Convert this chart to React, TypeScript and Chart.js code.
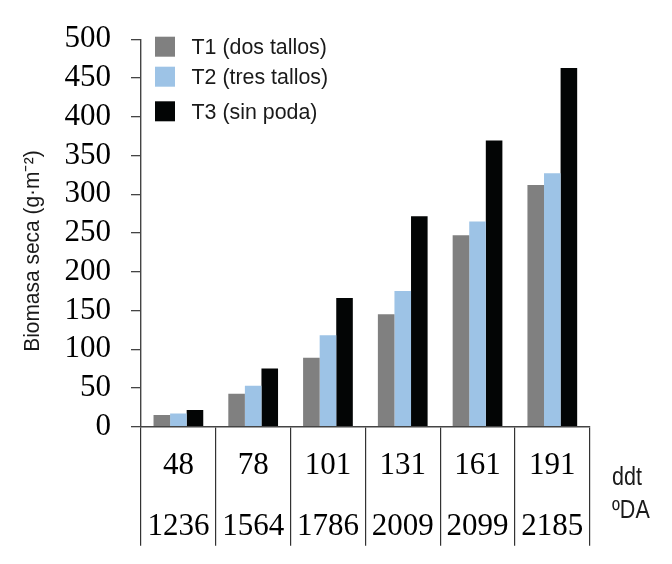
import React, { useEffect, useRef } from "react";
import { Chart, registerables } from "chart.js";

Chart.register(...registerables);

const ddtLabels = ["48", "78", "101", "131", "161", "191"];
const daLabels = ["1236", "1564", "1786", "2009", "2099", "2185"];
const seriesNames = ["T1 (dos tallos)", "T2 (tres tallos)", "T3 (sin poda)"];
const t1Values = [15, 42.5, 89, 145, 247, 312];
const t2Values = [17, 53, 118, 175, 265, 327];
const t3Values = [21.5, 75, 166, 271.5, 369.5, 463];
const seriesColors = ["#808080", "#9dc3e6", "#030505"];
const yAxisTitle = "Biomasa seca (g·m⁻²)";
const xAxisRowNames = ["ddt", "ºDA"];

const SANS = "'Liberation Sans', Arial, sans-serif";
const SERIF = "'Liberation Serif', 'DejaVu Serif', serif";

function narrowText(ctx: CanvasRenderingContext2D, text: string, x: number, y: number, sx: number) {
  ctx.save();
  ctx.translate(x, y);
  ctx.scale(sx, 1);
  ctx.fillText(text, 0, 0);
  ctx.restore();
}

const extrasPlugin = {
  id: "extras",
  afterDraw(chart: any) {
    const ctx = chart.ctx as CanvasRenderingContext2D;
    ctx.save();
    // legend
    const rowOffsets = [0, 30, 64.6];
    chart.data.datasets.forEach((ds: any, i: number) => {
      const cy = 46.7 + rowOffsets[i];
      ctx.fillStyle = ds.backgroundColor;
      ctx.fillRect(155, cy - 10, 20, 20);
      ctx.fillStyle = "#1a1a1a";
      ctx.font = `22.5px ${SANS}`;
      ctx.textAlign = "left";
      ctx.textBaseline = "middle";
      narrowText(ctx, ds.label, 191.5, cy + 1, 0.95);
    });
    // axis row names
    ctx.fillStyle = "#1a1a1a";
    ctx.font = `25px ${SANS}`;
    ctx.textAlign = "left";
    ctx.textBaseline = "middle";
    narrowText(ctx, xAxisRowNames[0], 612, 478, 0.86);
    narrowText(ctx, xAxisRowNames[1], 612, 511, 0.86);
    // y title
    ctx.translate(33, 251);
    ctx.rotate(-Math.PI / 2);
    ctx.textAlign = "center";
    ctx.font = `22.5px ${SANS}`;
    narrowText(ctx, yAxisTitle, 0, 0, 0.93);
    ctx.restore();
  },
};

export default function App() {
  const ref = useRef<HTMLCanvasElement>(null);
  useEffect(() => {
    if (!ref.current) return;
    const chart = new Chart(ref.current, {
      type: "bar",
      data: {
        labels: ddtLabels.map((d, i) => [d, daLabels[i]]),
        datasets: [t1Values, t2Values, t3Values].map((v, i) => ({
          label: seriesNames[i],
          data: v,
          backgroundColor: seriesColors[i],
          borderWidth: 0,
          categoryPercentage: 0.665,
          barPercentage: 1,
        })),
      },
      options: {
        animation: false,
        responsive: false,
        maintainAspectRatio: false,
        layout: { padding: { left: 0, top: 39.3, right: 82.3, bottom: 0 } },
        plugins: { legend: { display: false }, tooltip: { enabled: false } },
        scales: {
          x: {
            grid: {
              display: true,
              drawOnChartArea: false,
              drawTicks: true,
              tickLength: 119,
              offset: true,
              color: "#333",
              lineWidth: 1.2,
            },
            border: { display: true, color: "#444", width: 1.4 },
            ticks: {
              color: "#000",
              font: { family: SERIF, size: 31, lineHeight: 1.95 },
              padding: -109.6,
              maxRotation: 0,
              autoSkip: false,
            },
            afterFit(scale: any) {
              scale.height = 137.3;
            },
          },
          y: {
            min: 0,
            max: 500,
            grid: {
              display: true,
              drawOnChartArea: false,
              drawTicks: true,
              tickLength: 10,
              color: "#444",
              lineWidth: 1.3,
            },
            border: { display: true, color: "#444", width: 1.4 },
            ticks: {
              stepSize: 50,
              autoSkip: false,
              color: "#000",
              font: { family: SERIF, size: 31 },
              padding: 20,
            },
            afterFit(scale: any) {
              scale.width = 141;
            },
          },
        },
      },
      plugins: [extrasPlugin],
    });
    return () => chart.destroy();
  }, []);
  return (
    <div style={{ position: "fixed", left: 0, top: 0, width: 672, height: 564, background: "#fff" }}>
      <canvas ref={ref} width={672} height={564} style={{ width: 672, height: 564, display: "block" }} />
    </div>
  );
}
